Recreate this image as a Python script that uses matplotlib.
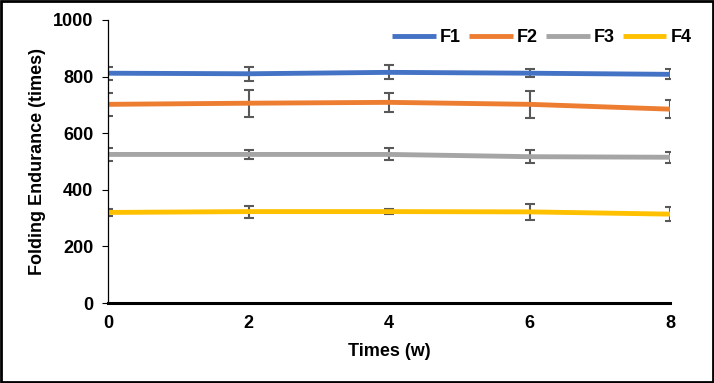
import matplotlib
matplotlib.use("Agg")
import matplotlib.pyplot as plt
from matplotlib.patches import Rectangle

plt.rcParams['font.family'] = ['Liberation Sans', 'DejaVu Sans']
plt.rcParams['font.weight'] = 'bold'

weeks = [0, 2, 4, 6, 8]
series_names = ["F1", "F2", "F3", "F4"]
f1 = [812, 810, 815, 812, 808]
f2 = [702, 706, 709, 702, 685]
f3 = [525, 525, 525, 517, 515]
f4 = [320, 323, 323, 322, 314]
f1_err = [23, 25, 25, 14, 18]
f2_err = [40, 47, 34, 48, 33]
f3_err = [23, 16, 21, 22, 19]
f4_err = [12, 21, 8, 27, 24]
colors = ["#4472C4", "#ED7D31", "#A5A5A5", "#FFC000"]
x_ticks = [0, 2, 4, 6, 8]
y_ticks = [0, 200, 400, 600, 800, 1000]

FS = 13

fig = plt.figure(figsize=(7.14, 3.83), dpi=100)
ax = fig.add_axes([108/714, 80/383, 562/714, 283/383])

values = [f1, f2, f3, f4]
errs = [f1_err, f2_err, f3_err, f4_err]
for name, v, e, c in zip(series_names, values, errs, colors):
    ax.errorbar(weeks, v, yerr=e, fmt='none', ecolor='#595959', elinewidth=1.5,
                capsize=3.6, capthick=1.5, zorder=2)
for name, v, e, c in zip(series_names, values, errs, colors):
    ax.plot(weeks, v, color=c, lw=3.5, label=name, zorder=3, solid_capstyle='butt')

ax.set_xlim(0, 8)
ax.set_ylim(0, 1000)
ax.set_xticks(x_ticks)
ax.set_yticks(y_ticks)
ax.tick_params(axis='x', length=0, pad=9, labelsize=FS)
ax.tick_params(axis='y', length=4.5, width=0.8, labelsize=FS, pad=6)
for lab in ax.get_xticklabels() + ax.get_yticklabels():
    lab.set_fontweight('bold')
ax.spines['top'].set_visible(False)
ax.spines['right'].set_visible(False)
ax.spines['bottom'].set_linewidth(2.2)
ax.spines['left'].set_linewidth(0.9)
ax.spines['bottom'].set_zorder(5)
ax.spines['left'].set_zorder(5)

ax.set_xlabel("Times (w)", fontsize=FS, fontweight='bold')
ax.set_ylabel("Folding Endurance (times)", fontsize=FS, fontweight='bold')
ax.yaxis.set_label_coords((38 - 108) / 562, 0.5)
ax.xaxis.set_label_coords(0.5, (303 - 352) / 283)
ax.xaxis.label.set_va('center')
ax.yaxis.label.set_va('center')

leg = fig.legend(*ax.get_legend_handles_labels(), loc='center right',
                 bbox_to_anchor=(692/714, 1 - 38/383), ncol=4, frameon=False,
                 handlelength=2.4, handletextpad=0.25, columnspacing=0.45,
                 borderpad=0, borderaxespad=0,
                 prop={'weight': 'bold', 'size': FS})

fig.patches.append(Rectangle((0.0015, 0.003), 0.997, 0.994, transform=fig.transFigure,
                             fill=False, edgecolor='black', lw=2))

fig.savefig("out.png", dpi=100)
